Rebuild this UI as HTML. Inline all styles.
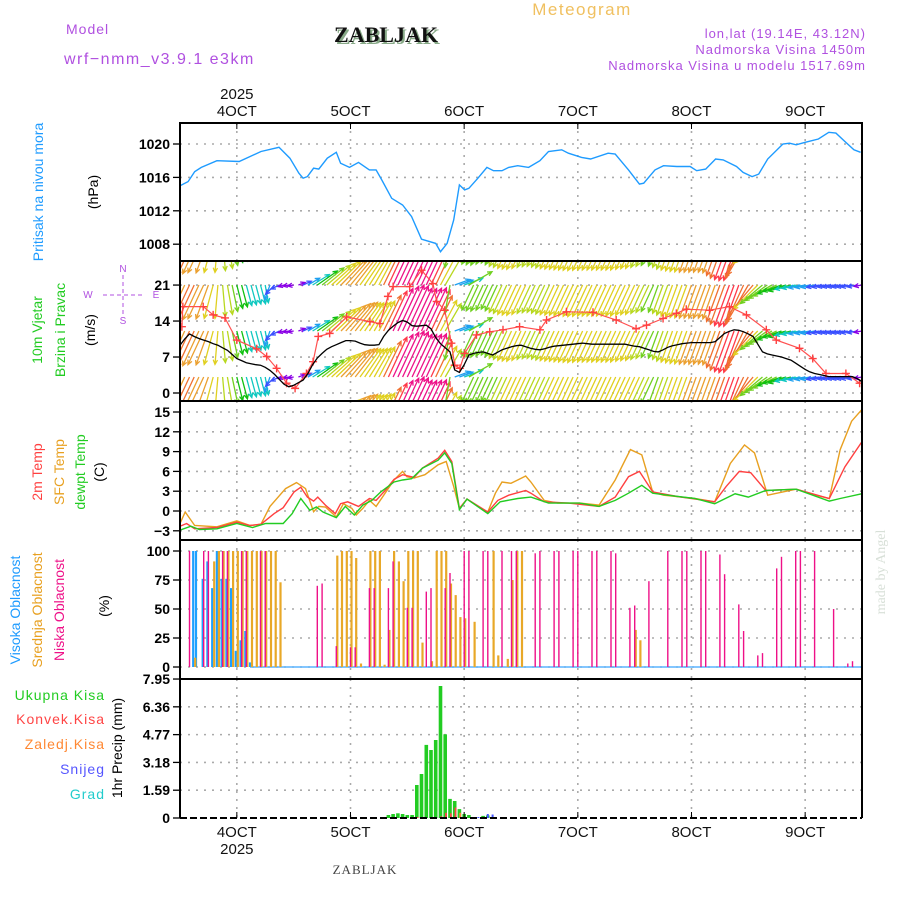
<!DOCTYPE html>
<html><head><meta charset="utf-8"><title>Meteogram ZABLJAK</title>
<style>
html,body{margin:0;padding:0;background:#fff;}
svg{display:block;font-family:"Liberation Sans",sans-serif;}
</style></head>
<body>
<svg id="chart" width="900" height="900" viewBox="0 0 900 900" xmlns="http://www.w3.org/2000/svg">
<rect x="0" y="0" width="900" height="900" fill="#fff"/>
<g>
<text x="582" y="15" font-size="17" fill="#f0c060" text-anchor="middle" letter-spacing="1.5">Meteogram</text>
<text x="66" y="34" font-size="14" fill="#b050e0" letter-spacing="1">Model</text>
<text x="64" y="64" font-size="16" fill="#b050e0" letter-spacing="1.5">wrf−nmm_v3.9.1 e3km</text>
<text x="388" y="44" font-size="22" font-weight="bold" font-family="Liberation Serif, serif" fill="#88aa88" text-anchor="middle">ZABLJAK</text>
<text x="386" y="42" font-size="22" font-weight="bold" font-family="Liberation Serif, serif" fill="#111" text-anchor="middle">ZABLJAK</text>
<text x="866" y="38" font-size="13" fill="#b050e0" text-anchor="end" letter-spacing="1">lon,lat (19.14E, 43.12N)</text>
<text x="866" y="54" font-size="13" fill="#b050e0" text-anchor="end" letter-spacing="1">Nadmorska Visina 1450m</text>
<text x="866" y="70" font-size="13" fill="#b050e0" text-anchor="end" letter-spacing="1">Nadmorska Visina u modelu 1517.69m</text>
</g>
<g>
<text transform="translate(43,192) rotate(-90)" font-size="14" fill="#1e9bff" text-anchor="middle">Pritisak na nivou mora</text>
<text transform="translate(98,192) rotate(-90)" font-size="14" fill="#000" text-anchor="middle">(hPa)</text>
<text transform="translate(42,330) rotate(-90)" font-size="14" fill="#22cc22" text-anchor="middle">10m Vjetar</text>
<text transform="translate(65,330) rotate(-90)" font-size="14" fill="#22cc22" text-anchor="middle">Brzina i Pravac</text>
<text transform="translate(95,330) rotate(-90)" font-size="14" fill="#000" text-anchor="middle">(m/s)</text>
<g fill="#b050e0" stroke="#b050e0" font-size="10">
<line x1="123" y1="275" x2="123" y2="314" stroke-dasharray="4,3"/>
<line x1="103" y1="295" x2="143" y2="295" stroke-dasharray="4,3"/>
<text x="123" y="272" text-anchor="middle" stroke="none">N</text>
<text x="123" y="324" text-anchor="middle" stroke="none">S</text>
<text x="88" y="298" text-anchor="middle" stroke="none">W</text>
<text x="156" y="298" text-anchor="middle" stroke="none">E</text>
</g>
<text transform="translate(42,472) rotate(-90)" font-size="14" fill="#ff4040" text-anchor="middle">2m Temp</text>
<text transform="translate(64,472) rotate(-90)" font-size="14" fill="#e8a020" text-anchor="middle">SFC Temp</text>
<text transform="translate(85,472) rotate(-90)" font-size="14" fill="#22cc22" text-anchor="middle">dewpt Temp</text>
<text transform="translate(104,472) rotate(-90)" font-size="14" fill="#000" text-anchor="middle">(C)</text>
<text transform="translate(20,610) rotate(-90)" font-size="14" fill="#1e9bff" text-anchor="middle">Visoka Oblacnost</text>
<text transform="translate(42,610) rotate(-90)" font-size="14" fill="#e8a020" text-anchor="middle">Srednja Oblacnost</text>
<text transform="translate(64,610) rotate(-90)" font-size="14" fill="#ee1188" text-anchor="middle">Niska Oblacnost</text>
<text transform="translate(109,606) rotate(-90)" font-size="14" fill="#000" text-anchor="middle">(%)</text>
<text x="105" y="700" font-size="14" fill="#22cc22" text-anchor="end" letter-spacing="1">Ukupna  Kisa</text>
<text x="105" y="724" font-size="14" fill="#ff4444" text-anchor="end" letter-spacing="1">Konvek.Kisa</text>
<text x="105" y="749" font-size="14" fill="#ff8833" text-anchor="end" letter-spacing="1">Zaledj.Kisa</text>
<text x="105" y="774" font-size="14" fill="#5555ff" text-anchor="end" letter-spacing="1">Snijeg</text>
<text x="105" y="799" font-size="14" fill="#22cccc" text-anchor="end" letter-spacing="1">Grad</text>
<text transform="translate(122,748) rotate(-90)" font-size="14" fill="#000" text-anchor="middle">1hr Precip (mm)</text>
</g>
<text transform="translate(885,572) rotate(-90)" font-size="14" fill="#d8e0d8" text-anchor="middle" font-family="Liberation Serif, serif">made by Angel</text>
<text x="365" y="874" font-size="13" fill="#444" text-anchor="middle" font-family="Liberation Serif, serif" letter-spacing="1">ZABLJAK</text>
<defs>
<clipPath id="clipP"><rect x="180" y="123" width="682" height="138"/></clipPath>
<clipPath id="clipW"><rect x="180" y="261" width="682" height="140"/></clipPath>
<clipPath id="clipT"><rect x="180" y="401" width="682" height="139"/></clipPath>
<clipPath id="clipC"><rect x="180" y="540" width="682" height="139"/></clipPath>
<clipPath id="clipR"><rect x="180" y="679" width="682" height="139"/></clipPath>
</defs>
<g id="plots"></g>
</svg>
<script>
// ---- data ----
const dayLabels = ["4OCT","5OCT","6OCT","7OCT","8OCT","9OCT"];
const dayHours = [12,36,60,84,108,132];
const yearLabel = "2025";

const presTicks = [1008,1012,1016,1020];
const presH = [0,1.7,3.1,4.5,7.8,12.5,17.1,20.9,23.2,25.1,26,26.9,28.2,29.3,31.1,33,33.9,35.8,37.7,40,41.4,42.8,44.7,47,48.9,51,54,55,56.4,57.8,59,60.1,61,62.9,64.8,66.2,68,69.4,71.3,73.6,76,77.8,80.6,82,84.8,86.7,90.4,91.9,94.7,97,97.9,100.3,102.1,104.9,107.7,109.1,111,113.1,114.7,117.5,118.9,120.8,122.2,124.1,127.3,128.7,130.1,132,134.8,137,138.5,140.4,142.3,143.7];
const presV = [1015.0,1015.5,1016.7,1017.2,1018.0,1017.9,1019.1,1019.6,1018.3,1016.5,1015.9,1016.1,1017.1,1017.0,1018.3,1019.0,1017.7,1017.2,1017.8,1016.9,1016.9,1015.5,1013.5,1012.7,1011.3,1008.6,1008.1,1007.1,1008.1,1010.9,1015.1,1014.5,1014.7,1015.9,1017.2,1016.8,1016.8,1017.2,1017.4,1017.2,1018.0,1019.1,1019.3,1018.9,1018.4,1018.2,1018.9,1018.8,1016.9,1015.2,1015.3,1016.9,1017.4,1017.3,1017.3,1016.8,1017.0,1018.2,1018.1,1017.3,1016.6,1016.1,1016.4,1018.2,1020.0,1020.1,1019.9,1020.2,1020.6,1021.4,1021.3,1020.3,1019.3,1019.0];

const windTicks = [0,7,14,21];
const windSpeed = [9.3,10.5,11.5,11,10.6,10.3,10,9.6,9.3,8.8,8.3,7.5,6.7,6.3,5.9,5.7,5.5,5.4,5,4.4,3.6,2.6,1.7,1.2,1.5,2,2.5,3.8,5.5,6.8,7.7,8.5,9,9.4,9.8,10.2,10.2,10.1,9.7,9.4,9.3,9.3,9.4,11,12.2,13,13.7,14.1,13.8,13.1,13,13.1,13.2,12.5,10.8,9.6,8.8,8,4.5,4,5.5,7.4,7.7,7.9,8,7.7,7.4,7.9,8.4,8.7,9,9.2,9.3,9,8.7,8.5,8.4,8.6,8.9,9.1,9.2,9.3,9.4,9.5,9.6,9.7,9.6,9.5,9.5,9.5,9.5,9.5,9.5,9.5,9.5,9.3,9.1,9,8.7,8.4,8.1,8,8.4,8.9,9.2,9.4,9.6,9.7,9.8,9.8,9.8,9.8,9.8,10,10.8,11.6,12,12.3,12.2,11.9,11.5,11,9.5,8,7.6,7.4,7.2,7,6.7,6.4,5.8,5.2,4.6,4.1,3.8,3.6,3.4,3.2,3.2,3.2,3.2,3.2,3.2,2.8,2.2,1.9];
const windDir = [25,25,25,25,25,25,20,15,5,355, 350,348,346,345,345,345,345,345,350, 20,45,65,75,80,80, 250,245,240,238, 235,232,230,228,226,224,222,220,218,216,214,212, 210,208,206,205,205,205,205,205,205,205,205,205,205,205,208,210, 10, 250,250,250,240, 25,25,25,25,25,25,25,25,25,25,25,25,25,25,25,25,25,25,25,25,25,25,25,25,25,25,25,25,25,25,25,25,25,25,25,25,25,25,25, 20,20,20,20,20,20,20,20,20,20,20,20,20,20,20,20,20,20, 25,30,40,45,50,55,60,65,70,75, 75,78,80,80,80,80,80,80,80,80,80,80,80,80,80,80];
const gustH = [0.4,0.6,4.9,7,9.5,12,16.2,18.3,20.4,22.5,24.3,26.7,28.1,29.2,31.6,35.2,40.1,42.2,43.9,45,48.5,51,53.4,54.2,55.9,57.3,58,59.1,60.1,62.6,65.4,68.2,71.7,76,77.4,81.6,87.2,92.1,96.3,98.5,102,104.8,106.9,111.8,116,119.6,123.8,125.9,130.8,133.6,136.4,140.6,143.5];
const gustV = [12.9,16.8,16.8,15.2,14.6,10.3,8.6,7.1,4.8,1.9,0.9,3.8,6.1,11,11.6,14.8,13.9,13.5,18.8,20.7,20.7,23.9,21.3,17.8,16.1,9.7,5.4,4.8,7.7,11.3,11.9,12.3,12.9,12.3,14.2,15.8,15.7,14.2,12.5,13.2,14.5,15.5,16.3,16.1,16.8,15.2,12.3,10.3,8.7,6.7,3.8,3.8,1.9];

const tempTicks = [-3,0,3,6,9,12,15];
const sfcH = [0,1.1,3.1,7.8,12,14.8,17.1,19,22.3,24.6,26.5,28.2,29.3,30.7,33,34.5,36.3,37.2,38.6,40,41.4,43.3,45.2,47,47.9,49.4,51.7,54.5,56.2,57.8,59,60.6,62.9,65,66.6,68,69.9,71.3,73,74.1,76.9,79.7,84.4,88.5,91.9,95.1,97.5,99.8,102.1,105.9,108.7,112.9,116.2,119.2,121.3,124.1,127.3,130.1,134.8,137.1,139.4,141.8,143.9];
const sfcV = [-1.9,-0.15,-2.2,-2.4,-1.5,-2.2,-2.0,0.7,3.4,4.3,3.4,-0.1,0.7,0.6,-0.9,1.1,0.4,-0.6,0.4,1.6,0.7,2.7,4.7,6.0,5.2,5.0,5.5,7.0,7.5,3.7,0.4,1.8,0.7,-0.15,2.7,4.4,4.2,4.7,5.3,4.4,1.6,1.2,1.2,0.9,4.7,9.3,8.5,2.9,2.4,2.1,1.9,1.4,7.2,10.0,8.8,2.4,2.9,3.3,2.3,1.9,9.3,13.6,15.3];
const t2H = [0,1.4,3.1,7.8,12,14.8,17.1,19.9,21.8,24.1,25.5,26.9,28.2,29.1,30.7,32.8,33.9,35.4,37.7,40,41.4,43.3,45.2,47,49.4,51.2,54.5,55.9,57.4,59,60.6,65,67.1,69.4,73,74.1,76.9,82,88.5,91.9,94.7,97,99.8,105,112.9,115.3,118.1,120.5,123.7,130.1,137.1,140.4,143.9];
const t2V = [-2.3,-1.9,-2.7,-2.5,-1.7,-2.2,-2.0,-0.4,0.5,2.9,3.6,2.1,1.5,2.1,0.9,-0.4,1.1,1.4,0.7,1.9,1.6,3.1,4.8,5.5,5.1,6.5,8.0,9.2,7.5,0.4,1.8,-0.15,1.6,2.4,3.1,2.7,1.4,1.2,0.7,2.1,5.2,6.0,2.9,2.2,1.4,3.7,6.0,5.8,3.1,3.3,1.9,6.7,10.4];
const tdH = [0,2.3,4.1,7.8,12,15.3,18.1,21.8,23.7,25.5,27.4,28.8,30.2,33,34.9,36.8,38.6,40.5,42.4,45.2,47,48.9,51.2,54.5,55.9,57.4,59,60.6,65,67.6,71.3,74.1,77.8,84.4,88.5,91.9,94.7,97.5,99.8,104,108.7,112.9,117.2,120,123.7,130.1,137.1,139.4,143.9];
const tdV = [-2.9,-2.3,-2.8,-2.7,-1.9,-2.5,-1.9,-1.9,-0.4,1.9,0.1,0.6,-0.15,-1.0,0.7,-0.6,0.9,1.6,2.9,4.4,4.7,4.9,6.5,7.7,8.8,7.2,0.2,1.8,-0.4,1.4,1.9,2.1,1.2,1.2,0.7,1.6,2.7,3.9,2.7,2.3,1.9,1.1,2.6,2.1,3.1,3.3,1.5,1.9,2.6];

const cloudTicks = [0,25,50,75,100];
const lowH = [2,5,6,9,10,13,14,17,18,29,30,33,36,37,40,41,44,45,48,49,52,53,56,57,60,61,64,65,68,70,71,75,76,79,80,83,84,87,88,91,92,95,96,99,103,106,107,110,111,114,115,118,119,122,123,126,127,130,131,134,138,141,142];
const lowV = [100,100,100,100,100,100,100,100,100,70,72,18,17,17,68,68,68,91,51,51,65,68,68,81,100,100,100,100,100,100,100,98,100,100,100,100,100,100,100,100,98,51,53,74,100,100,100,100,100,97,80,54,31,10,12,85,95,100,100,100,50,3,5];
const midH = [3,7,8,9,10,11,12,13,14,15,16,17,18,19,20,21,33,34,35,36,37,38,40,41,42,43,44,45,46,47,48,49,50,51,53,54,55,56,57,58,59,60,62,66,67,69,70,71,72,96,97];
const midV = [8,91,100,100,100,100,100,100,100,100,100,100,100,100,100,73,96,100,100,100,94,3,100,100,100,2,32,100,91,74,100,100,100,21,5,100,100,100,72,62,43,42,39,100,10,7,75,100,100,32,23];
const highH = [3,3.6,5,6,7,8,9,10,11,12,13,14,15];
const highV = [100,100,76,91,68,100,76,76,68,14,23,31,4];

const precipTicks = [0,1.59,3.18,4.77,6.36,7.95];
const totH = [44,45,46,47,48,49,50,51,52,53,54,55,56,57,58,59,60,61,64,65];
const totV = [0.17,0.23,0.27,0.23,0.17,0.17,1.89,2.52,4.18,3.89,4.46,7.55,4.79,1.09,0.97,0.51,0.23,0.17,0.12,0.15];
const convH = [50,55,56,57,58];
const convV = [0.06,0.1,0.3,0.27,0.6];
const frzH = [59];
const frzV = [0.3];
const snowH = [1,3,63,65,66];
const snowV = [0.05,0.05,0.06,0.23,0.2];

// ---- scales ----
const X0 = 180, X1 = 862;
function xS(h){ return X0 + h * 4.736; }
function yP(v){ return 144 + (1020 - v) * 8.35; }
function yW(v){ return 393 - v * 5.14; }
function yT(v){ return 511 - v * 6.6; }
function yC(v){ return 667 - v * 1.16; }
function yR(v){ return 818 - v * 17.48; }

const NS = "http://www.w3.org/2000/svg";
const root = document.getElementById("plots");
function mk(tag, attrs, parent){
  const e = document.createElementNS(NS, tag);
  for (const k in attrs) e.setAttribute(k, attrs[k]);
  (parent || root).appendChild(e);
  return e;
}
function linePath(hs, vs, ys){
  return hs.map((h,i)=> (i?"L":"M") + xS(h).toFixed(1) + "," + ys(vs[i]).toFixed(1)).join(" ");
}

const panels = [
  {name:"pressure", top:123, bot:261, ticks:presTicks, ys:yP, fmt:v=>String(v), clip:"clipP"},
  {name:"wind", top:261, bot:401, ticks:windTicks, ys:yW, fmt:v=>String(v), clip:"clipW"},
  {name:"temperature", top:401, bot:540, ticks:tempTicks, ys:yT, fmt:v=>(v<0?"−"+(-v):String(v)), clip:"clipT"},
  {name:"cloud", top:540, bot:679, ticks:cloudTicks, ys:yC, fmt:v=>String(v), clip:"clipC"},
  {name:"precip", top:679, bot:818, ticks:precipTicks, ys:yR, fmt:v=>String(v), clip:"clipR"}
];

// grids and y axes
panels.forEach(p=>{
  const g = mk("g", {});
  
  
  p.ticks.forEach(t=>{
    const y = p.ys(t);
    if (t !== 0 || p.name === "cloud" || p.name === "wind" || p.name === "temperature") {
      if (y > p.top + 1 && y < p.bot - 1) mk("line", {x1:X0, x2:X1, y1:y, y2:y, stroke:"#aaa", "stroke-width":1.6, "stroke-dasharray":"2,6"}, g);
    }
    mk("line", {x1:173, x2:X0, y1:y, y2:y, stroke:"#000", "stroke-width":1.3}, g);
    const tx = mk("text", {x:170, y:y+5, "font-size":14, "font-weight":"bold", "text-anchor":"end", fill:"#000"}, g);
    tx.textContent = p.fmt(t);
    
    
  });
  dayHours.forEach(h=>{
    mk("line", {x1:xS(h), x2:xS(h), y1:p.top, y2:p.bot, stroke:"#aaa", "stroke-width":1.6, "stroke-dasharray":"2,6"}, g);
  });
});

// pressure
const pg = mk("g", {"clip-path":"url(#clipP)"});


mk("path", {d:linePath(presH, presV, yP), fill:"none", stroke:"#1e9bff", "stroke-width":1.4}, pg);

// wind arrows
function speedColor(s){
  if (s < 2.5) return "#8a00e6";
  if (s < 3.8) return "#3a50ff";
  if (s < 5) return "#1ea0f0";
  if (s < 6) return "#10c8c0";
  if (s < 7.2) return "#10c010";
  if (s < 8.2) return "#70d020";
  if (s < 9) return "#b8d820";
  if (s < 9.8) return "#e0d020";
  if (s < 10.8) return "#eba030";
  if (s < 12) return "#f07030";
  if (s < 13) return "#ff3a4a";
  return "#ee1188";
}
const wg = mk("g", {"clip-path":"url(#clipW)"});


const rowsY = [193, 239, 285, 331, 377, 423];
windSpeed.forEach((s,i)=>{
  const x = xS(i);
  const to = (windDir[i] + 180) * Math.PI / 180;
  const L = Math.max(6, s * 3.6);
  const ux = Math.sin(to), uy = -Math.cos(to);
  const col = speedColor(s);
  rowsY.forEach(ry=>{
    const tx = x + ux*L, ty = ry + uy*L;
    const a = Math.atan2(uy, ux);
    const hl = 5;
    const d = "M" + x.toFixed(1) + "," + ry + " L" + tx.toFixed(1) + "," + ty.toFixed(1) +
      " M" + (tx - hl*Math.cos(a-0.45)).toFixed(1) + "," + (ty - hl*Math.sin(a-0.45)).toFixed(1) + " L" + tx.toFixed(1) + "," + ty.toFixed(1) +
      " L" + (tx - hl*Math.cos(a+0.45)).toFixed(1) + "," + (ty - hl*Math.sin(a+0.45)).toFixed(1);
    const ar = mk("path", {d:d, fill:"none", stroke:col, "stroke-width":1.3}, wg);
    
    
  });
});
const gg = mk("g", {"clip-path":"url(#clipW)"});


mk("path", {d:linePath(gustH, gustV, yW), fill:"none", stroke:"#ff5050", "stroke-width":1.2}, gg);
gustH.forEach((h,i)=>{
  const x = xS(h), y = yW(gustV[i]);
  const c = mk("path", {d:"M"+(x-4)+","+y+" L"+(x+4)+","+y+" M"+x+","+(y-4)+" L"+x+","+(y+4), stroke:"#ff4040", "stroke-width":1.4}, gg);
  
  
});
const spdHours = windSpeed.map((s,i)=>i);
const sl = mk("path", {d:linePath(spdHours, windSpeed, yW), fill:"none", stroke:"#000", "stroke-width":1.3, "clip-path":"url(#clipW)"});



// temperature
const tg = mk("g", {"clip-path":"url(#clipT)"});


const l1 = mk("path", {d:linePath(sfcH, sfcV, yT), fill:"none", stroke:"#e8a020", "stroke-width":1.4}, tg);


const l2 = mk("path", {d:linePath(t2H, t2V, yT), fill:"none", stroke:"#ff4040", "stroke-width":1.4}, tg);


const l3 = mk("path", {d:linePath(tdH, tdV, yT), fill:"none", stroke:"#22cc22", "stroke-width":1.4}, tg);



// clouds
const cg = mk("g", {"clip-path":"url(#clipC)"});


mk("line", {x1:250, x2:X1, y1:yC(0), y2:yC(0), stroke:"#5ab4ff", "stroke-width":1.5}, cg);
function bars(hs, vs, ys, w, col, off, name, parent){
  hs.forEach((h,i)=>{
    const y = ys(vs[i]), y0 = ys(0);
    const r = mk("rect", {x:(xS(h)+off-w/2).toFixed(1), y:y.toFixed(1), width:w, height:Math.max(0.5, y0-y).toFixed(1), fill:col}, parent);
    
    
  });
}
bars(highH, highV, yC, 2.2, "#1ea0ff", -1, "high-cloud-bar", cg);
bars(midH, midV, yC, 2.2, "#e8a828", 1, "mid-cloud-bar", cg);
bars(lowH, lowV, yC, 1.4, "#ee1188", 0, "low-cloud-bar", cg);

// precipitation
const rg = mk("g", {"clip-path":"url(#clipR)"});


bars(totH, totV, yR, 3.6, "#22cc22", 0, "total-rain-bar", rg);
bars(convH, convV, yR, 1.8, "#ff4444", 0.8, "convective-rain-bar", rg);
bars(frzH, frzV, yR, 1.8, "#ff8833", 0.8, "freezing-rain-bar", rg);
bars(snowH, snowV, yR, 2, "#4455ff", 0, "snow-bar", rg);

// frames
const fg = mk("g", {});


[[123,261],[261,401],[401,540],[540,679]].forEach(([t,b])=>{
  mk("rect", {x:X0, y:t, width:X1-X0, height:b-t, fill:"none", stroke:"#000", "stroke-width":2}, fg);
});
mk("line", {x1:X0, x2:X0, y1:679, y2:818, stroke:"#000", "stroke-width":2}, fg);
mk("line", {x1:X1, x2:X1, y1:679, y2:818, stroke:"#000", "stroke-width":2}, fg);
mk("line", {x1:X0, x2:X1, y1:679, y2:679, stroke:"#000", "stroke-width":2, "stroke-dasharray":"7,3"}, fg);
mk("line", {x1:X0, x2:X1, y1:818, y2:818, stroke:"#000", "stroke-width":2, "stroke-dasharray":"7,3"}, fg);

// x axes labels
const xg = mk("g", {});


dayHours.forEach((h,i)=>{
  const x = xS(h);
  mk("line", {x1:x, x2:x, y1:123, y2:129, stroke:"#000", "stroke-width":1}, xg);
  mk("line", {x1:x, x2:x, y1:812, y2:818, stroke:"#000", "stroke-width":1}, xg);
  const t1 = mk("text", {x:x, y:116, "font-size":15, "text-anchor":"middle", fill:"#111"}, xg);
  t1.textContent = dayLabels[i];
  
  
  const t2 = mk("text", {x:x, y:837, "font-size":15, "text-anchor":"middle", fill:"#111"}, xg);
  t2.textContent = dayLabels[i];
  
  
});
const yr1 = mk("text", {x:xS(dayHours[0]), y:99, "font-size":15, "text-anchor":"middle", fill:"#111"}, xg);
yr1.textContent = yearLabel;


const yr2 = mk("text", {x:xS(dayHours[0]), y:854, "font-size":15, "text-anchor":"middle", fill:"#111"}, xg);
yr2.textContent = yearLabel;


</script>
</body></html>
